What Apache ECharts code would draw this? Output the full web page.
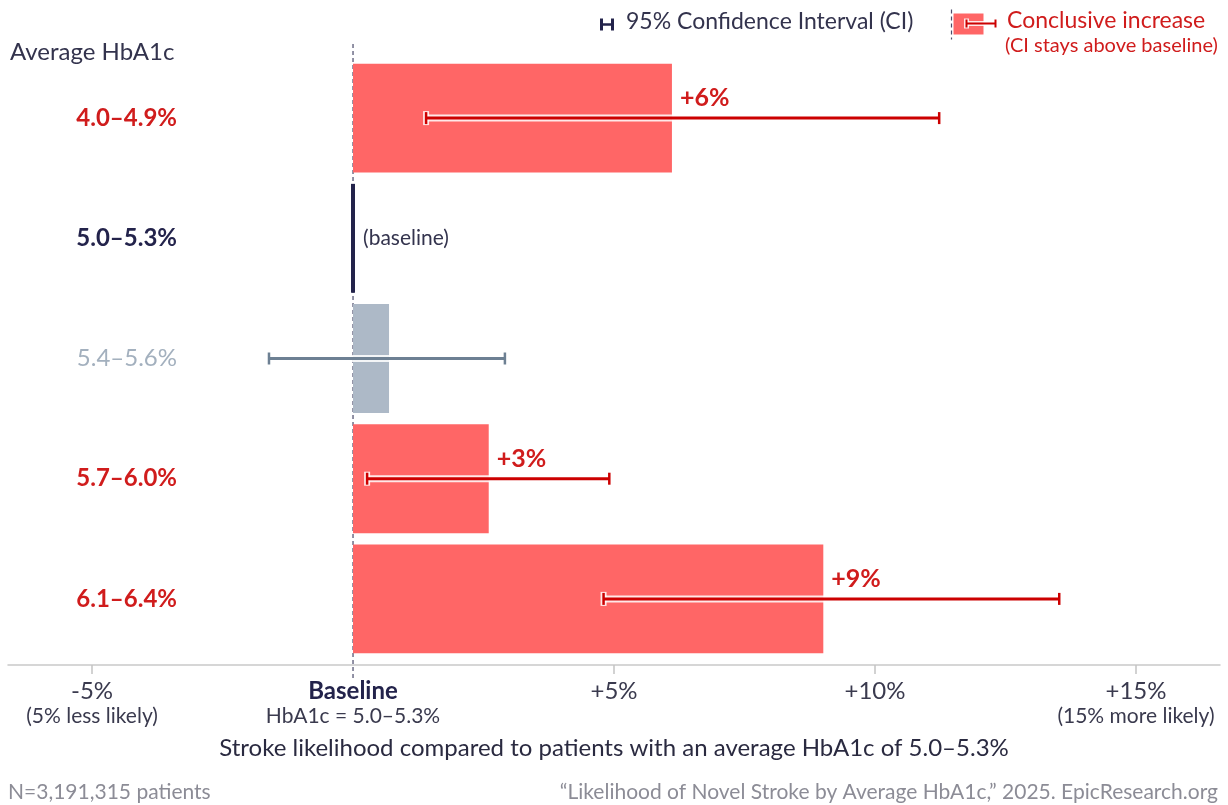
<!DOCTYPE html>
<html>
<head>
<meta charset="utf-8">
<script src="https://cdn.jsdelivr.net/npm/echarts@6/dist/echarts.min.js"></script>
<style>
html,body{margin:0;padding:0;background:#fff;}
#chart{width:1228px;height:805px;}
</style>
</head>
<body>
<div id="chart"></div>
<script>
// ---- data ----
var categories = ['4.0–4.9%', '5.0–5.3%', '5.4–5.6%', '5.7–6.0%', '6.1–6.4%'];
var effect   = [6.11, 0, 0.69, 2.60, 9.01];
var ciLow    = [1.40, null, -1.61, 0.27, 4.80];
var ciHigh   = [11.23, null, 2.91, 4.91, 13.53];
var rowStatus = ['conclusive', 'baseline', 'neutral', 'conclusive', 'conclusive'];
var valueLabels = ['+6%', '(baseline)', '', '+3%', '+9%'];
var tickValues = [-5, 0, 5, 10, 15];
var tickLabels = ['-5%', 'Baseline', '+5%', '+10%', '+15%'];
var tickSubLabels = ['(5% less likely)', 'HbA1c = 5.0–5.3%', '', '', '(15% more likely)'];

var FONT = 'Lato, "Noto Sans", sans-serif';
var NAVY = '#23234b';
var RED_BAR = '#ff6666';
var RED_LINE = '#cc0000';
var RED_TEXT = '#d01c1c';
var GRAY_BAR = '#adb9c7';
var GRAY_LINE = '#6d8093';
var GRAY_TEXT = '#a3b0be';
var DARK_TEXT = '#33334d';

var chart = echarts.init(document.getElementById('chart'), null, {renderer: 'canvas'});

var seriesData = categories.map(function (c, i) {
  return [effect[i], i, ciLow[i] == null ? NaN : ciLow[i], ciHigh[i] == null ? NaN : ciHigh[i]];
});

function renderBar(params, api) {
  var i = params.dataIndex;
  var st = rowStatus[i];
  var zero = api.coord([0, i]);
  var end = api.coord([effect[i], i]);
  var band = api.size([0, 1])[1];
  var h = band * 0.906;
  var cy = zero[1];
  var children = [];
  if (st === 'baseline') {
    children.push({type: 'rect', shape: {x: zero[0] - 2, y: cy - h / 2, width: 4, height: h},
      style: {fill: NAVY}});
    children.push({type: 'text', style: {x: zero[0] + 10, y: cy, text: valueLabels[i],
      fill: DARK_TEXT, font: '21px ' + FONT, verticalAlign: 'middle', align: 'left'}});
    return {type: 'group', children: children};
  }
  var fill = st === 'conclusive' ? RED_BAR : GRAY_BAR;
  var lineColor = st === 'conclusive' ? RED_LINE : GRAY_LINE;
  children.push({type: 'rect', shape: {x: zero[0], y: cy - h / 2, width: end[0] - zero[0], height: h},
    style: {fill: fill}});
  var lo = api.coord([ciLow[i], i])[0];
  var hi = api.coord([ciHigh[i], i])[0];
  var capH = 12;
  // white halo
  children.push({type: 'line', shape: {x1: lo, y1: cy, x2: hi, y2: cy}, style: {stroke: '#fff', lineWidth: 7, opacity: 0.85}});
  children.push({type: 'line', shape: {x1: lo, y1: cy - capH / 2 - 1, x2: lo, y2: cy + capH / 2 + 1}, style: {stroke: '#fff', lineWidth: 6, opacity: 0.85}});
  children.push({type: 'line', shape: {x1: hi, y1: cy - capH / 2 - 1, x2: hi, y2: cy + capH / 2 + 1}, style: {stroke: '#fff', lineWidth: 6, opacity: 0.85}});
  children.push({type: 'line', shape: {x1: lo, y1: cy, x2: hi, y2: cy}, style: {stroke: lineColor, lineWidth: 3}});
  children.push({type: 'line', shape: {x1: lo, y1: cy - capH / 2, x2: lo, y2: cy + capH / 2}, style: {stroke: lineColor, lineWidth: 2.5}});
  children.push({type: 'line', shape: {x1: hi, y1: cy - capH / 2, x2: hi, y2: cy + capH / 2}, style: {stroke: lineColor, lineWidth: 2.5}});
  if (valueLabels[i]) {
    children.push({type: 'text', style: {x: end[0] + 8, y: cy - 20, text: valueLabels[i],
      fill: RED_TEXT, font: 'bold 25px ' + FONT, verticalAlign: 'middle', align: 'left'}});
  }
  return {type: 'group', children: children};
}

function renderZero(params, api) {
  var cs = params.coordSys;
  var x = api.coord([0, 0])[0];
  return {type: 'line', shape: {x1: x, y1: cs.y - 14, x2: x, y2: cs.y + cs.height + 19},
    style: {stroke: '#4a4a6a', lineWidth: 1.2, lineDash: [4, 3]}};
}

var option = {
  backgroundColor: '#ffffff',
  animation: false,
  textStyle: {fontFamily: FONT},
  grid: {left: 8, right: 8, top: 58, height: 601},
  xAxis: {
    type: 'value',
    min: -6.61,
    max: 16.61,
    offset: 6,
    splitLine: {show: false},
    axisLine: {show: true, lineStyle: {color: '#c9c9c9', width: 1.5}},
    axisTick: {show: true, customValues: [-5, 5, 10, 15], length: 9, lineStyle: {color: '#c4c4c4', width: 1.5}},
    axisLabel: {
      customValues: tickValues,
      margin: 14,
      formatter: function (v) {
        var k = tickValues.indexOf(Math.round(v));
        if (k < 0) return '';
        var main = k === 1 ? '{base|' + tickLabels[k] + '}' : '{a|' + tickLabels[k] + '}';
        var sub = tickSubLabels[k] ? '\n{b|' + tickSubLabels[k] + '}' : '';
        return main + sub;
      },
      rich: {
        a: {fontSize: 24, lineHeight: 25, color: '#3a3a4e', fontFamily: FONT},
        base: {fontSize: 24, lineHeight: 25, color: NAVY, fontWeight: 'bold', fontFamily: FONT},
        b: {fontSize: 21, lineHeight: 24, color: '#3a3a4e', fontFamily: FONT}
      }
    },
    name: 'Stroke likelihood compared to patients with an average HbA1c of 5.0–5.3%',
    nameLocation: 'middle',
    nameGap: 71,
    nameTextStyle: {fontSize: 24, color: '#2a2a40', fontFamily: FONT}
  },
  yAxis: {
    type: 'category',
    data: categories,
    inverse: true,
    axisLine: {show: false},
    axisTick: {show: false},
    splitLine: {show: false},
    axisLabel: {
      inside: true,
      margin: 169,
      align: 'right',
      formatter: function (v) {
        var st = rowStatus[categories.indexOf(v)];
        var key = st === 'conclusive' ? 'r' : (st === 'baseline' ? 'n' : 'g');
        return '{' + key + '|' + v + '}';
      },
      rich: {
        r: {fontSize: 24, fontWeight: 'bold', color: RED_TEXT, fontFamily: FONT},
        n: {fontSize: 24, fontWeight: 'bold', color: NAVY, fontFamily: FONT},
        g: {fontSize: 24, color: GRAY_TEXT, fontFamily: FONT}
      }
    }
  },
  series: [
    {type: 'custom', name: 'zero', data: [[0, 0]], encode: {x: 0, y: 1}, renderItem: renderZero, clip: false, z: 1, silent: true},
    {type: 'custom', name: 'effect', data: seriesData, encode: {x: 0, y: 1}, renderItem: renderBar, clip: false, z: 2}
  ],
  graphic: [
    {type: 'text', left: 10, top: 40, style: {text: 'Average HbA1c', fill: DARK_TEXT, font: '24px ' + FONT}},
    // legend: CI
    {type: 'group', left: 599, top: 16, children: [
      {type: 'line', shape: {x1: 1, y1: 6, x2: 12, y2: 6}, style: {stroke: NAVY, lineWidth: 2.5}},
      {type: 'line', shape: {x1: 1, y1: 0, x2: 1, y2: 12}, style: {stroke: NAVY, lineWidth: 3}},
      {type: 'line', shape: {x1: 12, y1: 0, x2: 12, y2: 12}, style: {stroke: NAVY, lineWidth: 3}}
    ]},
    {type: 'text', left: 626, top: 10, style: {text: '95% Confidence Interval (CI)', fill: DARK_TEXT, font: '23px ' + FONT}},
    // legend: conclusive increase
    {type: 'group', left: 949, top: 7, children: [
      {type: 'line', shape: {x1: 2, y1: 0, x2: 2, y2: 30}, style: {stroke: '#4a4a6a', lineWidth: 1.2, lineDash: [4, 3]}},
      {type: 'rect', shape: {x: 4, y: 4, width: 30, height: 21}, style: {fill: RED_BAR}},
      {type: 'line', shape: {x1: 17, y1: 14, x2: 46, y2: 14}, style: {stroke: '#fff', lineWidth: 5, opacity: 0.85}},
      {type: 'line', shape: {x1: 17, y1: 9, x2: 17, y2: 19}, style: {stroke: '#fff', lineWidth: 5, opacity: 0.85}},
      {type: 'line', shape: {x1: 17, y1: 14, x2: 46, y2: 14}, style: {stroke: RED_LINE, lineWidth: 2}},
      {type: 'line', shape: {x1: 17, y1: 10, x2: 17, y2: 18}, style: {stroke: RED_LINE, lineWidth: 2}},
      {type: 'line', shape: {x1: 46, y1: 10, x2: 46, y2: 18}, style: {stroke: RED_LINE, lineWidth: 2}}
    ]},
    {type: 'text', left: 1007, top: 9, style: {text: 'Conclusive increase', fill: RED_TEXT, font: '23px ' + FONT}},
    {type: 'text', left: 1005, top: 36, style: {text: '(CI stays above baseline)', fill: RED_TEXT, font: '20px ' + FONT}},
    // footer
    {type: 'text', left: 8, top: 782, style: {text: 'N=3,191,315 patients', fill: '#8c8c96', font: '21px ' + FONT}},
    {type: 'text', right: 10, top: 782, style: {text: '\u201cLikelihood of Novel Stroke by Average HbA1c,\u201d 2025. EpicResearch.org', fill: '#8c8c96', font: '21px ' + FONT}}
  ]
};

chart.setOption(option);
</script>
</body>
</html>
